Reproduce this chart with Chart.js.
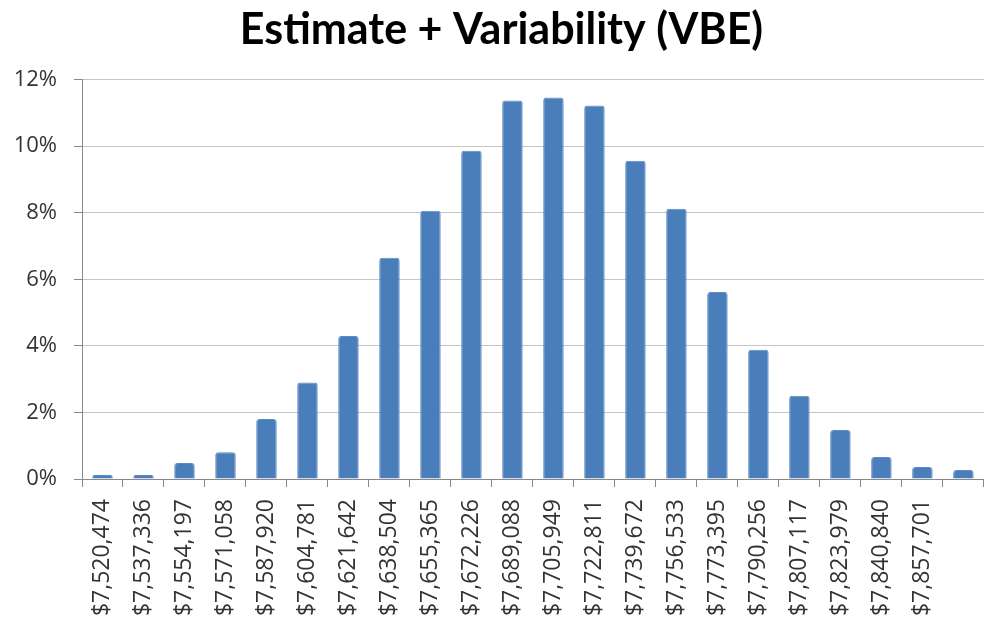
<!DOCTYPE html>
<html>
<head>
<meta charset="utf-8">
<script src="https://cdn.jsdelivr.net/npm/chart.js@4/dist/chart.umd.min.js"></script>
<style>
  html, body { margin: 0; padding: 0; background: #fff; }
  #wrap { width: 1003px; height: 629px; }
</style>
</head>
<body>
<div id="wrap"><canvas id="vbeChart"></canvas></div>
<script>
// bin labels (last bin has no label in the original)
const binLabels = [
  '$7,520,474', '$7,537,336', '$7,554,197', '$7,571,058', '$7,587,920',
  '$7,604,781', '$7,621,642', '$7,638,504', '$7,655,365', '$7,672,226',
  '$7,689,088', '$7,705,949', '$7,722,811', '$7,739,672', '$7,756,533',
  '$7,773,395', '$7,790,256', '$7,807,117', '$7,823,979', '$7,840,840',
  '$7,857,701', ''
];

// share of runs in each bin, in percent
const binShare = [
  0.12, 0.12, 0.48, 0.8, 1.8, 2.9, 4.3, 6.65, 8.06, 9.86, 11.37,
  11.46, 11.22, 9.56, 8.12, 5.62, 3.88, 2.5, 1.47, 0.66, 0.36, 0.27
];

const yTicks = [0, 2, 4, 6, 8, 10, 12];

const ctx = document.getElementById('vbeChart').getContext('2d');

new Chart(ctx, {
  type: 'bar',
  data: {
    labels: binLabels,
    datasets: [{
      data: binShare,
      backgroundColor: '#4a7ebb',
      borderColor: '#5b8cc6',
      borderWidth: 1,
      borderRadius: 3,
      barPercentage: 0.5,
      categoryPercentage: 1
    }]
  },
  options: {
    responsive: true,
    maintainAspectRatio: false,
    animation: false,
    layout: { padding: 0 },
    plugins: {
      legend: { display: false },
      tooltip: { enabled: false },
      title: {
        display: true,
        text: 'Estimate + Variability (VBE)',
        color: '#000',
        font: { family: 'Lato', size: 43, weight: 'bold' },
        padding: { top: 4, bottom: 24 }
      }
    },
    scales: {
      x: {
        grid: {
          drawOnChartArea: false,
          drawTicks: true,
          tickLength: 8,
          color: '#888'
        },
        border: { color: '#888', width: 1 },
        ticks: {
          autoSkip: false,
          minRotation: 90,
          maxRotation: 90,
          padding: 12,
          color: '#333',
          font: { family: 'Open Sans', size: 23 }
        },
        afterFit: (scale) => { scale.height = 150; }
      },
      y: {
        min: 0,
        max: 12,
        afterBuildTicks: (scale) => {
          scale.ticks = yTicks.map(v => ({ value: v }));
        },
        grid: {
          color: '#c4c4c4',
          tickLength: 8,
          tickColor: '#888'
        },
        border: { color: '#888', width: 1 },
        ticks: {
          padding: 17,
          color: '#333',
          font: { family: 'Open Sans', size: 22 },
          callback: (v) => v + '%'
        },
        afterFit: (scale) => { scale.width = 82; }
      }
    }
  }
});
</script>
</body>
</html>
